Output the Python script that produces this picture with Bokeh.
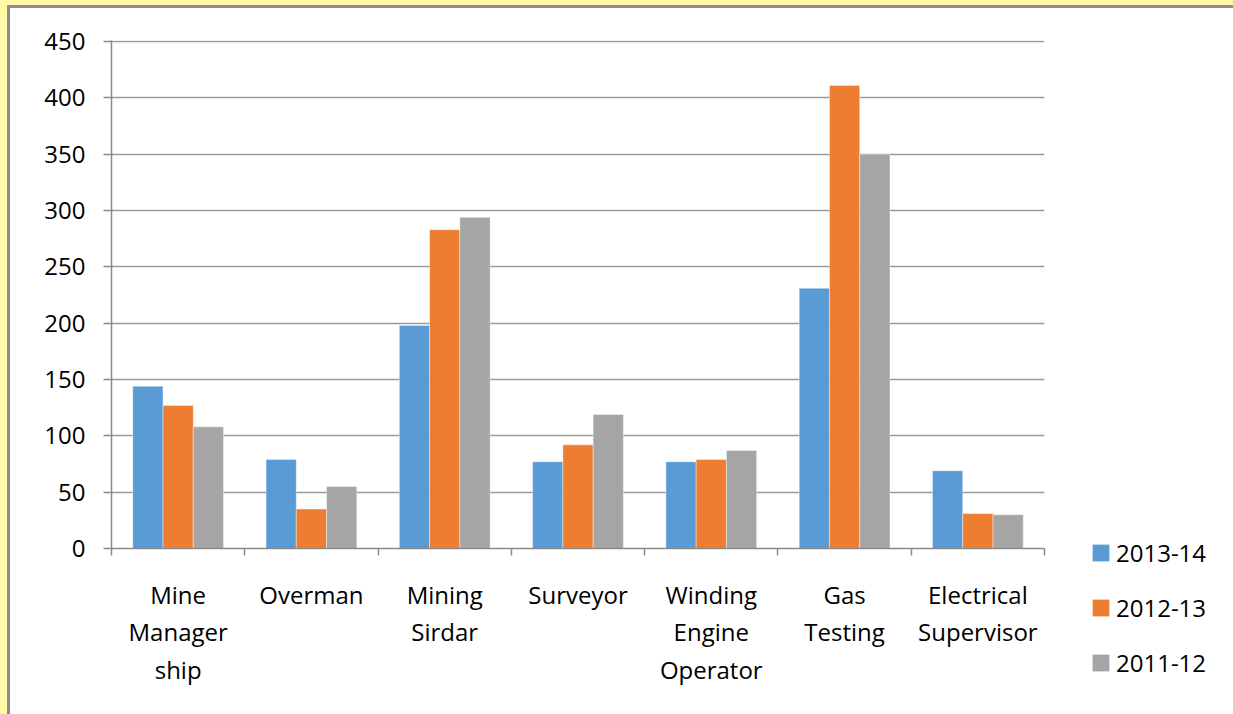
from bokeh.plotting import figure
from bokeh.layouts import column, row
from bokeh.models import (ColumnDataSource, Range1d, LinearAxis, FixedTicker, Legend, LegendItem)
from bokeh.transform import dodge
from bokeh.embed import file_html
from bokeh.resources import INLINE

categories = ["Mine\nManager\nship", "Overman", "Mining\nSirdar", "Surveyor",
              "Winding\nEngine\nOperator", "Gas\nTesting", "Electrical\nSupervisor"]
years = ["2013-14", "2012-13", "2011-12"]
v_2013_14 = [144, 79, 198, 77, 77, 231, 69]
v_2012_13 = [127, 35, 283, 92, 79, 411, 31]
v_2011_12 = [108, 55, 294, 119, 87, 350, 30]
colors = ["#5B9BD5", "#ED7D31", "#A5A5A5"]
y_ticks = [0, 50, 100, 150, 200, 250, 300, 350, 400, 450]

n = len(categories)
centers = [i + 0.5 for i in range(n)]
bounds = list(range(n + 1))
src = ColumnDataSource(dict(x=centers, a=v_2013_14, b=v_2012_13, c=v_2011_12))

FONT = "Open Sans"
GRID = "#9a9a9a"
AXIS = "#8a8a8a"

p = figure(width=1037, height=706, x_range=Range1d(0, n), y_range=Range1d(0, 451),
           output_backend="svg", toolbar_location=None, x_axis_location=None,
           min_border_left=101, min_border_top=32, min_border_right=3, min_border_bottom=166)
p.outline_line_color = None
p.background_fill_color = "white"
p.border_fill_color = "white"
p.frame_align = False

# x axis: labels at category centres, minor ticks at category boundaries
xax = LinearAxis(ticker=FixedTicker(ticks=centers, minor_ticks=bounds),
                 major_label_overrides={c: lab for c, lab in zip(centers, categories)})
xax.axis_line_color = AXIS
xax.axis_line_width = 1.5
xax.major_tick_line_color = None
xax.major_tick_out = 0
xax.major_tick_in = 0
xax.minor_tick_line_color = AXIS
xax.minor_tick_line_width = 1.5
xax.minor_tick_out = 7
xax.minor_tick_in = 0
xax.major_label_standoff = 22
xax.major_label_text_font = FONT
xax.major_label_text_font_size = "24px"
xax.major_label_text_color = "black"
xax.major_label_text_line_height = 1.15
p.add_layout(xax, "below")

yax = p.yaxis[0]
yax.ticker = FixedTicker(ticks=y_ticks)
yax.major_label_text_font = FONT
yax.major_label_text_font_size = "24px"
yax.major_label_text_color = "black"
yax.major_label_standoff = 18
yax.major_tick_out = 8
yax.major_tick_in = 0
yax.minor_tick_line_color = None
yax.axis_line_color = AXIS
yax.axis_line_width = 1.5
yax.major_tick_line_color = AXIS
yax.major_tick_line_width = 1.5

p.xgrid.grid_line_color = None
p.ygrid.grid_line_color = GRID
p.ygrid.grid_line_width = 1.5
p.ygrid.ticker = FixedTicker(ticks=y_ticks)

bw = 0.227
for i, (col, c) in enumerate(zip(["a", "b", "c"], colors)):
    p.vbar(x=dodge("x", (i - 1) * bw), top=col, width=bw, source=src,
           fill_color=c, line_color="white", line_alpha=0.5, line_width=0.8)

# legend panel at the right (its renderers share the data but lie outside its view)
lf = figure(width=186, height=706, x_range=Range1d(-2, -1), y_range=Range1d(0, 1),
            output_backend="svg", toolbar_location=None, x_axis_location=None, y_axis_location=None,
            min_border_left=0, min_border_right=0, min_border_top=0, min_border_bottom=0)
lf.frame_align = False
lf.outline_line_color = None
lf.grid.grid_line_color = None
lf.background_fill_color = "white"
lf.border_fill_color = "white"
leg_renderers = [lf.vbar(x="x", top=col, width=bw, source=src, fill_color=c, line_color=None)
                 for col, c in zip(["a", "b", "c"], colors)]
legend = Legend(items=[LegendItem(label=y, renderers=[r]) for y, r in zip(years, leg_renderers)],
                location=(43, 35))
legend.glyph_width = 21
legend.glyph_height = 21
legend.label_text_font = FONT
legend.label_text_font_size = "24px"
legend.label_text_color = "black"
legend.label_standoff = 5
legend.spacing = 22
legend.padding = 0
legend.margin = 0
legend.border_line_color = None
legend.background_fill_alpha = 0
lf.add_layout(legend, "center")

chart = row(p, lf, styles={"background-color": "white",
                           "border-left": "3px solid #8C8C8C", "border-top": "3px solid #8C8C8C"})
page = column(chart, styles={"background-color": "#FFF9A8", "padding-left": "7px", "padding-top": "5px"})

open("out.html", "w").write(file_html(page, INLINE))
